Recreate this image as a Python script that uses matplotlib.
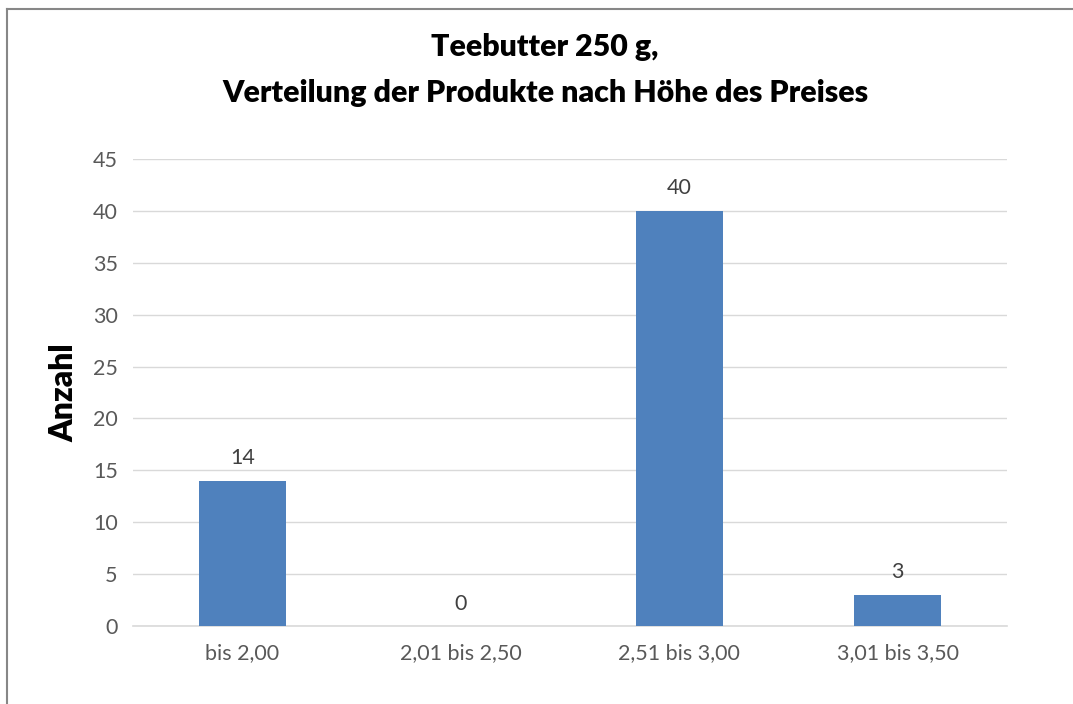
import matplotlib
matplotlib.use("Agg")
import matplotlib.pyplot as plt
from matplotlib.lines import Line2D

# data
kategorien = ["bis 2,00", "2,01 bis 2,50", "2,51 bis 3,00", "3,01 bis 3,50"]
anzahl = [14, 0, 40, 3]
y_ticks = [0, 5, 10, 15, 20, 25, 30, 35, 40, 45]

plt.rcParams['font.family'] = ['Lato', 'DejaVu Sans']

fig = plt.figure(figsize=(10.73, 7.04), dpi=100)
ax = fig.add_axes([0.124, 0.1108, 0.8145, 0.6633])

x = range(len(kategorien))
ax.bar(x, anzahl, width=0.4, color='#4F81BD', zorder=3)

for xi, v in zip(x, anzahl):
    ax.text(xi, v + 1.2, str(v), ha='center', va='bottom', fontsize=15.5, color='#404040')

ax.set_xlim(-0.5, len(kategorien) - 0.5)
ax.set_ylim(0, 45)
ax.set_yticks(y_ticks)
ax.yaxis.grid(True, color='#D9D9D9', linewidth=1, zorder=0)
ax.set_xticks(list(x))
ax.set_xticklabels(kategorien)
ax.tick_params(axis='both', length=0, labelsize=15.5, labelcolor='#595959')
ax.tick_params(axis='x', pad=12)
ax.tick_params(axis='y', pad=11)
for s in ['top', 'right', 'left']:
    ax.spines[s].set_visible(False)
ax.spines['bottom'].set_color('#D9D9D9')
ax.spines['bottom'].set_linewidth(1.2)

ax.set_ylabel('Anzahl', fontsize=23, fontweight='heavy', color='black', labelpad=10)

fig.text(0.508, 0.933, 'Teebutter 250 g,', ha='center', va='center',
         fontsize=21.8, fontweight='heavy')
fig.text(0.508, 0.868, 'Verteilung der Produkte nach Höhe des Preises', ha='center',
         va='center', fontsize=21.8, fontweight='heavy')

# chart area border (only top and left visible in the crop)
fig.add_artist(Line2D([0.0068, 0.0068], [0, 0.9872], transform=fig.transFigure,
                      color='#878787', linewidth=1.5))
fig.add_artist(Line2D([0.0068, 1.0], [0.9872, 0.9872], transform=fig.transFigure,
                      color='#878787', linewidth=1.5))

fig.savefig('out.png', dpi=100)
